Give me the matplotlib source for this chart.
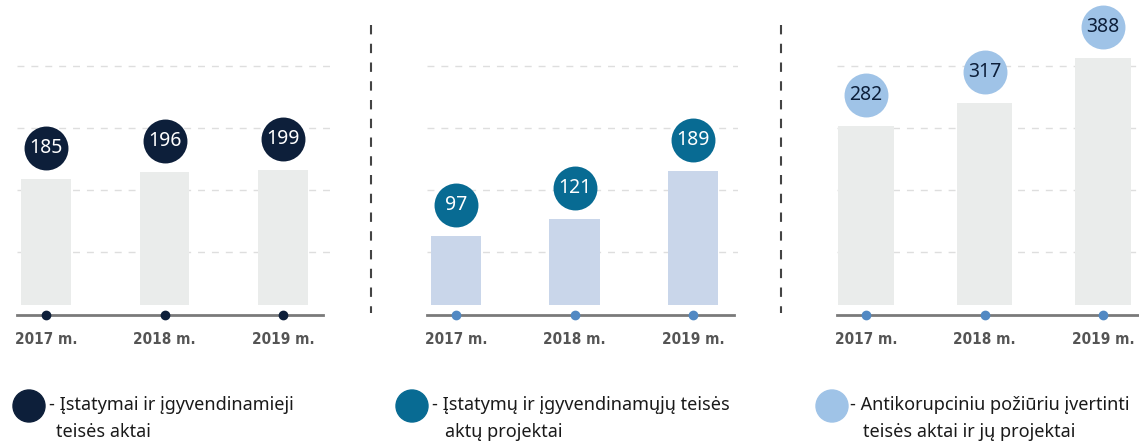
import matplotlib
matplotlib.use('Agg')
import matplotlib.pyplot as plt
from matplotlib.lines import Line2D
from matplotlib.patches import Ellipse
from matplotlib.transforms import offset_copy

W, H = 1139, 446
DPI = 100

years = ['2017 m.', '2018 m.', '2019 m.']
laws = [185, 196, 199]
projects = [97, 121, 189]
anticorr = [282, 317, 388]

legend_lines = [
    ('- Įstatymai ir įgyvendinamieji', 'teisės aktai'),
    ('- Įstatymų ir įgyvendinamųjų teisės', 'aktų projektai'),
    ('- Antikorupciniu požiūriu įvertinti', 'teisės aktai ir jų projektai'),
]

navy = '#0d1f3a'
teal = '#086b93'
light = '#9fc3e7'
dot_blue = '#5289c3'
grey_bar = '#eaeceb'
blue_bar = '#c9d6ea'
axis_grey = '#7a7a7a'

TXT = ['Noto Sans', 'DejaVu Sans']

fig = plt.figure(figsize=(W / DPI, H / DPI), dpi=DPI)


def px_axes(x0, x1, ytop, ybot):
    return fig.add_axes([x0 / W, 1 - ybot / H, (x1 - x0) / W, (ybot - ytop) / H])


# values, bar colour, bubble colour, number colour, dot colour,
# axes x range (px), baseline end (px), bar width, y scale (px per unit)
panels = [
    (laws, grey_bar, navy, 'white', navy, (17, 330), 323, 0.42, 0.68),
    (projects, blue_bar, teal, 'white', dot_blue, (427, 738), 734, 0.43, 0.71),
    (anticorr, grey_bar, light, navy, dot_blue, (837, 1139), 1139, 0.47, 0.636),
]

ytop, ybot = 0, 315
ah = ybot - ytop
step = 118.5
for vals, bc, cc, nc, dc, (x0, x1), xend, bw, scale in panels:
    ax = px_axes(x0, x1, ytop, ybot)
    first = x0 + 29
    ax.set_xlim((x0 - first) / step, (x1 - first) / step)
    # zero sits 10 px above the baseline
    ax.set_ylim(-10 / scale, (ah - 10) / scale)
    for s in ax.spines.values():
        s.set_visible(False)
    ax.set_yticks([])

    # dashed gridlines
    for py in [252, 190, 128, 66]:
        f = (ybot - py) / ah
        ax.plot([0, 1], [f, f], transform=ax.transAxes, color='#dedede',
                lw=1, dashes=(5, 5), zorder=0)

    xs = range(len(vals))
    ax.bar(xs, vals, width=bw, color=bc, zorder=1)

    # baseline and dots
    ax.plot([0, (xend - x0) / (x1 - x0)], [0, 0], transform=ax.transAxes,
            color=axis_grey, lw=2, clip_on=False, zorder=2)
    ax.scatter(xs, [0] * len(vals), transform=ax.get_xaxis_transform(),
               s=36, color=dc, zorder=3, clip_on=False)

    # value bubbles
    tr = offset_copy(ax.transData, fig=fig, y=31, units='dots')
    ax.scatter(xs, vals, s=1000, color=cc, transform=tr, zorder=4,
               clip_on=False, linewidths=0)
    for i, v in enumerate(vals):
        ax.text(i, v, str(v), transform=tr, ha='center', va='center',
                color=nc, fontsize=14, family=TXT, zorder=5)

    ax.set_xticks(list(xs))
    ax.set_xticklabels(years, family='DejaVu Sans', fontstretch='condensed',
                       fontweight='bold', fontsize=11, color='#555555')
    ax.tick_params(axis='x', length=0, pad=12)

# vertical separators
for sx in [371, 781]:
    fig.add_artist(Line2D([sx / W, sx / W], [1 - 25 / H, 1 - 313 / H],
                          color='#444444', lw=1.5, dashes=(4.5, 4.5)))

# legend
leg = fig.add_axes([0, 0, 1, 1], zorder=-1)
leg.set_xlim(0, W)
leg.set_ylim(H, 0)
leg.axis('off')
for (cx, tx, tx2), col, (l1, l2) in zip([(29, 49, 56), (412, 432, 445), (832, 850, 863)],
                                        [navy, teal, light], legend_lines):
    leg.add_patch(Ellipse((cx, 406), 32, 32, color=col))
    leg.text(tx, 405, l1, ha='left', va='center', fontsize=13, family=TXT,
             color='#1a1a1a')
    leg.text(tx2, 432, l2, ha='left', va='center', fontsize=13, family=TXT,
             color='#1a1a1a')

fig.savefig('out.png', dpi=DPI)
